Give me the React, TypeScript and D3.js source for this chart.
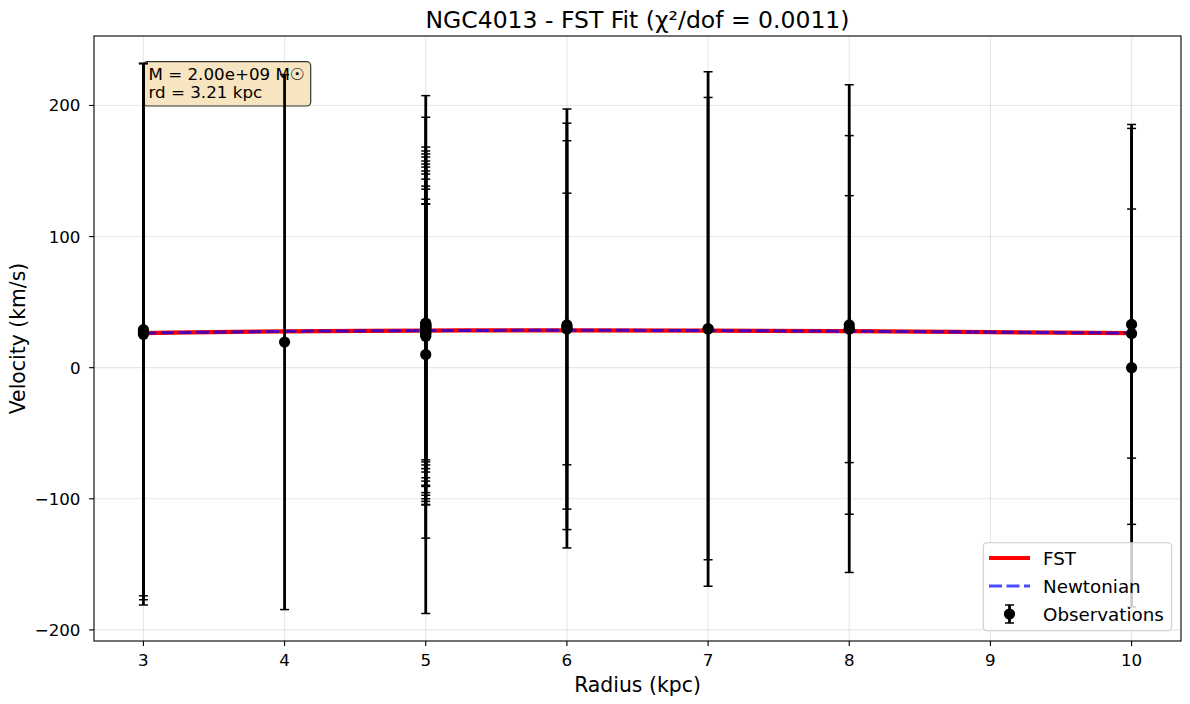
import React, { useEffect, useRef } from 'react';
import * as d3 from 'd3';

const width = 1190;
const height = 704;
const margin = { top: 36, right: 9, bottom: 63, left: 94 };

// observations: radius (kpc), velocity (km/s), error (km/s)
const obsRadius = [
  3, 3, 3,
  4,
  5, 5, 5, 5, 5, 5, 5, 5, 5, 5, 5, 5, 5, 5, 5, 5, 5,
  6, 6, 6, 6,
  7, 7,
  8, 8, 8,
  10, 10, 10,
];
const obsVelocity = [
  29.0, 27.5, 25.5,
  19.5,
  10.0, 30.5, 27.2, 24.0, 28.3, 31.0, 26.0, 32.1, 29.0, 33.0, 25.5, 30.0, 33.5, 28.0, 31.5, 34.0, 32.0,
  29.9, 31.5, 32.6, 29.5,
  29.5, 29.8,
  29.8, 32.6, 29.4,
  33.0, 26.0, 0.0,
];
const obsError = [
  203.0, 204.5, 206.5,
  204.0,
  197.5, 160.5, 97.5, 101.0, 100.2, 105.2, 112.5, 111.7, 118.7, 117.0, 127.5, 125.3, 124.1, 132.7, 131.5, 131.3, 136.3,
  167.4, 155.0, 140.5, 103.6,
  196.2, 176.3,
  186.0, 144.4, 101.8,
  152.5, 95.0, 182.5,
];

// model curves
const modelRadius = [3, 4, 5, 6, 7, 8, 9, 10];
const fstVelocity = [26.4, 27.7, 28.3, 28.5, 28.3, 27.8, 27.1, 26.4];
const newtonVelocity = [26.4, 27.7, 28.3, 28.5, 28.3, 27.8, 27.1, 26.4];

const xTicks = [3, 4, 5, 6, 7, 8, 9, 10];
const yTicks = [-200, -100, 0, 100, 200];
const legendLabels = ['FST', 'Newtonian', 'Observations'];

const font = 'DejaVu Sans, sans-serif';

const App: React.FC = () => {
  const ref = useRef<SVGSVGElement>(null);

  useEffect(() => {
    if (!ref.current) return;
    const svg = d3.select(ref.current);
    svg.selectAll('*').remove();

    const x0 = margin.left;
    const x1 = width - margin.right;
    const y0 = margin.top;
    const y1 = height - margin.bottom;

    const tops = obsVelocity.map((v, i) => v + obsError[i]);
    const bots = obsVelocity.map((v, i) => v - obsError[i]);
    const yMax = d3.max(tops) as number;
    const yMin = d3.min(bots) as number;
    const yPad = (yMax - yMin) * 0.05;
    const xPad = (10 - 3) * 0.05;

    const x = d3.scaleLinear().domain([3 - xPad, 10 + xPad]).range([x0, x1]);
    const y = d3.scaleLinear().domain([yMin - yPad, yMax + yPad]).range([y1, y0]);

    // grid
    const grid = svg.append('g').attr('stroke', '#b0b0b0').attr('stroke-opacity', 0.3).attr('stroke-width', 1.1);
    xTicks.forEach(t => {
      grid.append('line').attr('x1', x(t)).attr('x2', x(t)).attr('y1', y0).attr('y2', y1);
    });
    yTicks.forEach(t => {
      grid.append('line').attr('x1', x0).attr('x2', x1).attr('y1', y(t)).attr('y2', y(t));
    });

    // model lines
    const line = d3
      .line<number>()
      .x((_, i) => x(modelRadius[i]))
      .y(d => y(d))
      .curve(d3.curveMonotoneX);

    svg
      .append('path')
      .attr('d', line(fstVelocity))
      .attr('fill', 'none')
      .attr('stroke', '#ff0000')
      .attr('stroke-width', 4.2);
    svg
      .append('path')
      .attr('d', line(newtonVelocity))
      .attr('fill', 'none')
      .attr('stroke', '#0000ff')
      .attr('stroke-opacity', 0.7)
      .attr('stroke-width', 3)
      .attr('stroke-dasharray', '13,4.5');

    // parameter box
    svg
      .append('rect')
      .attr('x', 143.3)
      .attr('y', 61.7)
      .attr('width', 167.4)
      .attr('height', 44.3)
      .attr('rx', 4)
      .attr('fill', '#f5deb3')
      .attr('fill-opacity', 0.8)
      .attr('stroke', '#333')
      .attr('stroke-width', 1.2);

    // error bars
    const cap = 4.5;
    const eb = svg.append('g').attr('stroke', '#000');
    obsRadius.forEach((r, i) => {
      const cx = x(r);
      eb.append('line')
        .attr('x1', cx).attr('x2', cx)
        .attr('y1', y(tops[i])).attr('y2', y(bots[i]))
        .attr('stroke-width', 2.8);
      [tops[i], bots[i]].forEach(v => {
        eb.append('line')
          .attr('x1', cx - cap).attr('x2', cx + cap)
          .attr('y1', y(v)).attr('y2', y(v))
          .attr('stroke-width', 1.5);
      });
    });
    svg
      .append('g')
      .selectAll('circle')
      .data(obsVelocity)
      .enter()
      .append('circle')
      .attr('cx', (_, i) => x(obsRadius[i]))
      .attr('cy', d => y(d))
      .attr('r', 5.6)
      .attr('fill', '#000');

    // box text
    const bt = svg.append('text').attr('font-family', font).attr('font-size', 16.7).attr('fill', '#000');
    bt.append('tspan').attr('x', 148.5).attr('y', 80).text('M = 2.00e+09 M\u2609');
    bt.append('tspan').attr('x', 148.5).attr('y', 98.3).text('rd = 3.21 kpc');

    // spines
    svg
      .append('rect')
      .attr('x', x0)
      .attr('y', y0)
      .attr('width', x1 - x0)
      .attr('height', y1 - y0)
      .attr('fill', 'none')
      .attr('stroke', '#000')
      .attr('stroke-width', 1.1);

    // ticks
    const ax = svg.append('g').attr('font-family', font).attr('font-size', 16.7).attr('fill', '#000');
    xTicks.forEach(t => {
      ax.append('line').attr('x1', x(t)).attr('x2', x(t)).attr('y1', y1).attr('y2', y1 + 4.9).attr('stroke', '#000').attr('stroke-width', 1.1);
      ax.append('text').attr('x', x(t)).attr('y', y1 + 25.3).attr('text-anchor', 'middle').text(String(t));
    });
    yTicks.forEach(t => {
      ax.append('line').attr('x1', x0 - 4.9).attr('x2', x0).attr('y1', y(t)).attr('y2', y(t)).attr('stroke', '#000').attr('stroke-width', 1.1);
      ax.append('text').attr('x', x0 - 13.5).attr('y', y(t) + 6).attr('text-anchor', 'end').text(t < 0 ? '\u2212' + Math.abs(t) : String(t));
    });

    // labels
    svg
      .append('text')
      .attr('x', (x0 + x1) / 2)
      .attr('y', 691.5)
      .attr('text-anchor', 'middle')
      .attr('font-family', font)
      .attr('font-size', 20.4)
      .text('Radius (kpc)');
    svg
      .append('text')
      .attr('transform', `translate(25,${(y0 + y1) / 2}) rotate(-90)`)
      .attr('text-anchor', 'middle')
      .attr('font-family', font)
      .attr('font-size', 20.4)
      .text('Velocity (km/s)');
    svg
      .append('text')
      .attr('x', (x0 + x1) / 2)
      .attr('y', 27.5)
      .attr('text-anchor', 'middle')
      .attr('font-family', font)
      .attr('font-size', 23.5)
      .text('NGC4013 - FST Fit (\u03c7\u00b2/dof = 0.0011)');

    // legend
    const lg = svg.append('g');
    lg.append('rect')
      .attr('x', 983.3)
      .attr('y', 542.7)
      .attr('width', 188.4)
      .attr('height', 88)
      .attr('rx', 4)
      .attr('fill', '#fff')
      .attr('fill-opacity', 0.8)
      .attr('stroke', '#cccccc')
      .attr('stroke-width', 1.1);
    const rowY = [558, 586, 614];
    lg.append('line').attr('x1', 989).attr('x2', 1030).attr('y1', rowY[0]).attr('y2', rowY[0])
      .attr('stroke', '#ff0000').attr('stroke-width', 4.2);
    lg.append('line').attr('x1', 989).attr('x2', 1030).attr('y1', rowY[1]).attr('y2', rowY[1])
      .attr('stroke', '#0000ff').attr('stroke-opacity', 0.7).attr('stroke-width', 3).attr('stroke-dasharray', '13,4.5');
    const lx = 1009.5;
    lg.append('line').attr('x1', lx).attr('x2', lx).attr('y1', rowY[2] - 9).attr('y2', rowY[2] + 9)
      .attr('stroke', '#000').attr('stroke-width', 2.8);
    [rowY[2] - 9, rowY[2] + 9].forEach(v => {
      lg.append('line').attr('x1', lx - cap).attr('x2', lx + cap).attr('y1', v).attr('y2', v)
        .attr('stroke', '#000').attr('stroke-width', 1.5);
    });
    lg.append('circle').attr('cx', lx).attr('cy', rowY[2]).attr('r', 5.6).attr('fill', '#000');
    legendLabels.forEach((l, i) => {
      lg.append('text')
        .attr('x', 1043)
        .attr('y', rowY[i] + 6.5)
        .attr('font-family', font)
        .attr('font-size', 18.3)
        .text(l);
    });
  }, []);

  return (
    <div style={{ position: 'absolute', left: 0, top: 0, width, height, background: '#fff' }}>
      <svg ref={ref} width={width} height={height} style={{ display: 'block' }} />
    </div>
  );
};

export default App;
